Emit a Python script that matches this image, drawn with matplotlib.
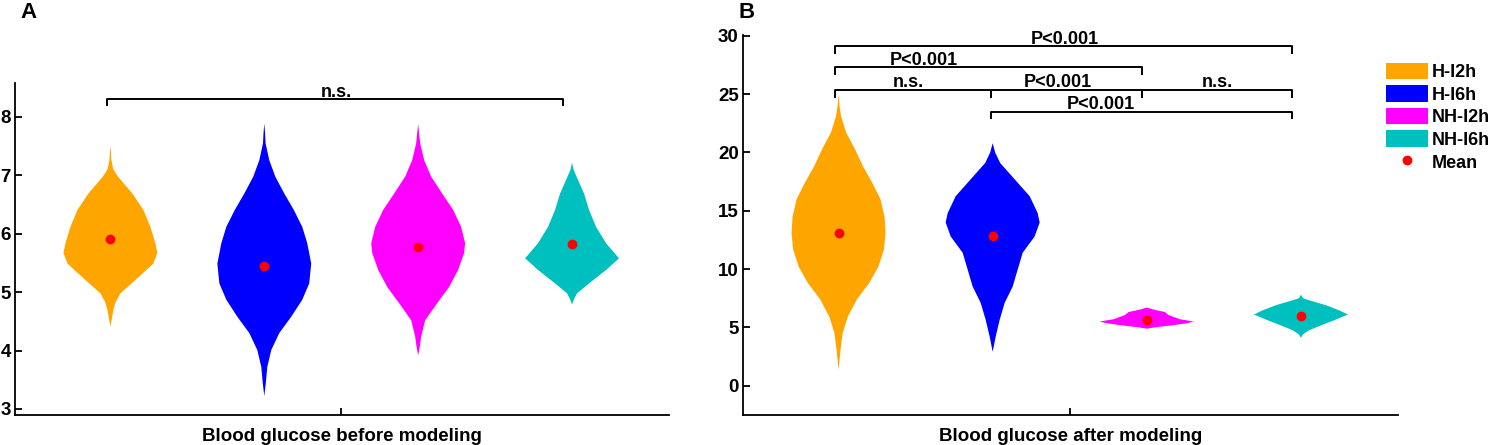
import matplotlib
matplotlib.use('Agg')
import matplotlib.pyplot as plt
from matplotlib.patches import Patch
from matplotlib.lines import Line2D

plt.rcParams['font.family'] = ['Liberation Sans', 'DejaVu Sans']
plt.rcParams['font.weight'] = 'bold'

groups = ['H-I2h', 'H-I6h', 'NH-I2h', 'NH-I6h']
colors = ['#FFA500', '#0000FF', '#FF00FF', '#00BFBF']

# violin outlines: glucose value and relative density
before_vals = [
    [7.50, 7.40, 7.26, 7.10, 6.98, 6.69, 6.41, 6.12, 5.84, 5.67, 5.49, 5.27, 4.98, 4.82, 4.70, 4.55, 4.41],
    [7.89, 7.72, 7.55, 7.26, 6.98, 6.69, 6.41, 6.12, 5.84, 5.49, 5.15, 4.87, 4.58, 4.30, 4.01, 3.72, 3.44, 3.22],
    [7.88, 7.72, 7.55, 7.26, 6.98, 6.69, 6.41, 6.12, 5.84, 5.67, 5.38, 5.09, 4.81, 4.52, 4.24, 4.05, 3.92],
    [7.22, 7.10, 6.98, 6.69, 6.41, 6.12, 5.84, 5.58, 5.38, 5.15, 4.98, 4.88, 4.79],
]
before_dens = [
    [0, 0.5, 1, 3, 7.5, 22, 33, 40, 45, 47, 43, 29, 10, 5, 3, 1.5, 0],
    [0, 0.8, 1.3, 5, 11, 20, 29.5, 38, 43, 47, 45, 38, 27, 15, 7, 3, 1.5, 0],
    [0, 1, 2, 6, 13, 24, 35, 43, 47, 46, 40, 31, 19, 7, 3, 1.5, 0],
    [0, 1.5, 4.5, 12, 17, 24, 34, 47, 34, 17, 5, 2, 0],
]
before_means = [5.91, 5.45, 5.78, 5.82]

after_vals = [
    [25.0, 24.0, 23.1, 21.7, 20.3, 18.8, 17.4, 16.0, 14.5, 13.1, 11.7, 10.2, 8.8, 7.4, 5.9, 4.5, 3.1, 1.35],
    [20.8, 20.0, 19.1, 17.7, 16.25, 14.8, 14.0, 12.8, 11.4, 9.95, 8.5, 7.1, 5.65, 4.2, 2.9],
    [6.7, 6.5, 6.32, 6.05, 5.89, 5.7, 5.5, 5.35, 5.17, 5.0, 4.88],
    [7.8, 7.5, 7.33, 6.9, 6.47, 6.1, 5.6, 5.17, 4.74, 4.4, 4.1],
]
after_dens = [
    [0, 1, 2.5, 7.5, 16, 24, 33, 41, 45, 46, 44.5, 39, 30, 18, 9, 4, 2, 0],
    [0, 2.5, 7.5, 22, 37, 45, 47, 42, 30, 25, 20, 12, 7, 3, 0],
    [0, 8, 18, 22, 27, 33, 47, 40, 25, 8, 0],
    [0, 2, 8, 25, 38, 47, 33, 20, 8, 2, 0],
]
after_means = [13.1, 12.8, 5.63, 5.97]

# comparisons: (group a, group b, bracket height, label, label x)
before_pairs = [(0, 3, 8.30, 'n.s.', 2.47)]
after_pairs = [
    (0, 3, 29.1, 'P<0.001', 2.47),
    (0, 2, 27.3, 'P<0.001', 1.55),
    (0, 1, 25.37, 'n.s.', 1.45),
    (1, 2, 25.37, 'P<0.001', 2.42),
    (2, 3, 25.37, 'n.s.', 3.46),
    (1, 3, 23.5, 'P<0.001', 2.70),
]
bracket_x = [0.98, 1.99, 2.97, 3.94]

positions = [1, 2, 3, 4]


def draw_panel(ax, vals, dens, means, pairs, ylim, yticks, xlabel):
    stats = []
    for v, d, m in zip(vals, dens, means):
        stats.append({'coords': v, 'vals': d, 'mean': m, 'median': m,
                      'min': min(v), 'max': max(v)})
    parts = ax.violin(stats, positions=positions, widths=0.61,
                      showmeans=False, showextrema=False, showmedians=False)
    for body, c in zip(parts['bodies'], colors):
        body.set_facecolor(c)
        body.set_edgecolor('none')
        body.set_alpha(1)
    ax.plot(positions, means, 'o', color='red', ms=6, zorder=3)

    h = 0.02 * (ylim[1] - ylim[0])
    for a, b, y, lab, tx in pairs:
        x1, x2 = bracket_x[a], bracket_x[b]
        ax.plot([x1, x1, x2, x2], [y - h, y, y, y - h], color='black',
                lw=1.4, clip_on=False, solid_capstyle='butt')
        ax.annotate(lab, xy=(tx, y), xytext=(0, 1.8), textcoords='offset points',
                    ha='center', va='baseline', fontsize=13, fontweight='bold')

    ax.set_xlim(0.38, 4.63)
    ax.set_ylim(*ylim)
    ax.set_yticks(yticks)
    ax.set_xticks([2.5])
    ax.set_xticklabels([''])
    for s in ['top', 'right']:
        ax.spines[s].set_visible(False)
    for s in ['left', 'bottom']:
        ax.spines[s].set_linewidth(1.3)
    ax.tick_params(direction='in', length=5, width=1.3, pad=3, labelsize=13.5)
    ax.annotate(xlabel, xy=(0.5, 0), xycoords='axes fraction', xytext=(0, -18.5),
                textcoords='offset points', ha='center', va='baseline',
                fontsize=13.5, fontweight='bold')


fig = plt.figure(figsize=(14.91, 4.45), dpi=100)
ax_a = fig.add_axes([15 / 1491, 30 / 445, 654 / 1491, 332 / 445])
ax_b = fig.add_axes([743 / 1491, 30 / 445, 655 / 1491, 380 / 445])

draw_panel(ax_a, before_vals, before_dens, before_means, before_pairs,
           (2.897, 8.582), [3, 4, 5, 6, 7, 8], 'Blood glucose before modeling')
draw_panel(ax_b, after_vals, after_dens, after_means, after_pairs,
           (-2.52, 30.08), [0, 5, 10, 15, 20, 25, 30], 'Blood glucose after modeling')

fig.text(20 / 1491, 1 - 2 / 445, 'A', ha='left', va='top', fontsize=16, fontweight='bold')
fig.text(738 / 1491, 1 - 2 / 445, 'B', ha='left', va='top', fontsize=16, fontweight='bold')

handles = [Patch(facecolor=c, edgecolor='none') for c in colors]
handles.append(Line2D([], [], marker='o', color='red', ls='none', ms=6))
fig.legend(handles, groups + ['Mean'], loc='upper left',
           bbox_to_anchor=(1386 / 1491, 1 - 62.5 / 445), frameon=False,
           prop={'weight': 'bold', 'size': 13}, handlelength=2.33,
           handleheight=1.04, handletextpad=0.2, labelspacing=0.23,
           borderpad=0, borderaxespad=0)

fig.savefig('out.png', dpi=100)
